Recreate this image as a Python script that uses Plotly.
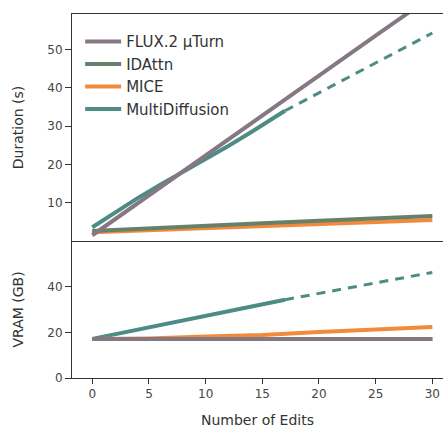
import plotly.graph_objects as go
from plotly.subplots import make_subplots

# ---- data ----
series_names = ["FLUX.2 µTurn", "IDAttn", "MICE", "MultiDiffusion"]
colors = {"FLUX.2 µTurn": "#857883", "IDAttn": "#66806a", "MICE": "#f28a3c", "MultiDiffusion": "#4d8b85"}

edits = [0, 5, 10, 15, 20, 25, 30]
flux_duration = [1.5, 12.0, 22.3, 32.7, 43.2, 53.6, 64.0]
idattn_duration = [2.6, 3.2, 3.9, 4.6, 5.3, 5.9, 6.5]
mice_duration = [2.3, 2.8, 3.3, 3.9, 4.5, 5.0, 5.5]

md_edits = [0, 2, 4, 6, 8, 10, 12, 14, 15, 16, 17]
md_duration = [3.6, 7.5, 11.2, 14.7, 18.1, 21.3, 24.8, 28.4, 30.2, 32.2, 34.0]
md_proj_edits = [17, 30]
md_proj_duration = [34.0, 54.3]

flux_vram = [17.1, 17.1, 17.1, 17.1, 17.1, 17.1, 17.1]
idattn_vram = [17.1, 17.1, 17.1, 17.1, 17.1, 17.1, 17.1]
mice_vram = [17.1, 17.4, 18.2, 18.9, 20.2, 21.4, 22.4]

md_vram = [17.2, 19.2, 21.3, 23.3, 25.3, 27.3, 29.3, 31.4, 32.4, 33.4, 34.4]
md_proj_vram = [34.4, 46.4]

x_ticks = [0, 5, 10, 15, 20, 25, 30]
dur_ticks = [10, 20, 30, 40, 50]
vram_ticks = [0, 20, 40]

FONT = "DejaVu Sans"
TICKC = "#444444"
LW = 4

fig = make_subplots(rows=2, cols=1, shared_xaxes=True, vertical_spacing=0,
                    row_heights=[0.6236, 0.3764])

# draw order: MultiDiffusion, MICE, IDAttn, FLUX (FLUX on top)
fig.add_trace(go.Scatter(x=md_edits, y=md_duration, mode="lines", name="MultiDiffusion",
                         line=dict(color=colors["MultiDiffusion"], width=LW), legendgroup="md"), 1, 1)
fig.add_trace(go.Scatter(x=md_proj_edits, y=md_proj_duration, mode="lines", showlegend=False,
                         line=dict(color=colors["MultiDiffusion"], width=3, dash="9px,7px"), legendgroup="md"), 1, 1)
fig.add_trace(go.Scatter(x=edits, y=mice_duration, mode="lines", name="MICE",
                         line=dict(color=colors["MICE"], width=LW), legendgroup="mice"), 1, 1)
fig.add_trace(go.Scatter(x=edits, y=idattn_duration, mode="lines", name="IDAttn",
                         line=dict(color=colors["IDAttn"], width=LW), legendgroup="id"), 1, 1)
fig.add_trace(go.Scatter(x=edits, y=flux_duration, mode="lines", name="FLUX.2 µTurn",
                         line=dict(color=colors["FLUX.2 µTurn"], width=LW), legendgroup="flux"), 1, 1)

fig.add_trace(go.Scatter(x=md_edits, y=md_vram, mode="lines", showlegend=False,
                         line=dict(color=colors["MultiDiffusion"], width=LW), legendgroup="md"), 2, 1)
fig.add_trace(go.Scatter(x=md_proj_edits, y=md_proj_vram, mode="lines", showlegend=False,
                         line=dict(color=colors["MultiDiffusion"], width=3, dash="9px,7px"), legendgroup="md"), 2, 1)
fig.add_trace(go.Scatter(x=edits, y=idattn_vram, mode="lines", showlegend=False,
                         line=dict(color=colors["IDAttn"], width=LW), legendgroup="id"), 2, 1)
fig.add_trace(go.Scatter(x=edits, y=mice_vram, mode="lines", showlegend=False,
                         line=dict(color=colors["MICE"], width=LW), legendgroup="mice"), 2, 1)
fig.add_trace(go.Scatter(x=edits, y=flux_vram, mode="lines", showlegend=False,
                         line=dict(color=colors["FLUX.2 µTurn"], width=LW), legendgroup="flux"), 2, 1)

xr = [-1.79, 30.94]
fig.update_xaxes(range=xr, showgrid=False, zeroline=False, showline=True, linecolor="#333333",
                 linewidth=1, mirror=True, tickvals=x_ticks, ticks="", showticklabels=False, row=1, col=1)
fig.update_xaxes(range=xr, showgrid=False, zeroline=False, showline=True, linecolor="#333333",
                 linewidth=1, tickvals=x_ticks, ticks="outside", ticklen=5, tickcolor="#333333",
                 tickfont=dict(family=FONT, size=12, color=TICKC),
                 title=dict(text="Number of Edits", font=dict(family=FONT, size=14, color="#333333"), standoff=14),
                 automargin=False, row=2, col=1)
fig.update_yaxes(range=[0, 59.27], showgrid=False, zeroline=False, showline=True, linecolor="#333333",
                 linewidth=1, tickvals=dur_ticks, ticks="outside", ticklen=6, tickcolor="#333333",
                 tickfont=dict(family=FONT, size=12, color=TICKC),
                 title=dict(text="Duration (s)", font=dict(family=FONT, size=14, color="#333333"), standoff=20),
                 automargin=False, row=1, col=1)
fig.update_yaxes(range=[0, 60.2], showgrid=False, zeroline=False, showline=True, linecolor="#333333",
                 linewidth=1, tickvals=vram_ticks, ticks="outside", ticklen=6, tickcolor="#333333",
                 tickfont=dict(family=FONT, size=12, color=TICKC),
                 title=dict(text="VRAM (GB)", font=dict(family=FONT, size=14, color="#333333"), standoff=20),
                 automargin=False, row=2, col=1)

fig.update_layout(
    width=443, height=431,
    margin=dict(l=72, r=0, t=14, b=53),
    paper_bgcolor="white", plot_bgcolor="white",
    font=dict(family=FONT, size=13, color="#333333"),
    legend=dict(x=0.022, y=0.969, xanchor="left", yanchor="top", traceorder="reversed",
                bgcolor="rgba(0,0,0,0)", font=dict(family=FONT, size=15, color="#333333"),
                itemwidth=36, tracegroupgap=3.5),
    showlegend=True,
)

fig.write_html("out.html", config={"displayModeBar": False},
               post_script="document.body.style.margin='0px';document.body.style.overflow='hidden';")
